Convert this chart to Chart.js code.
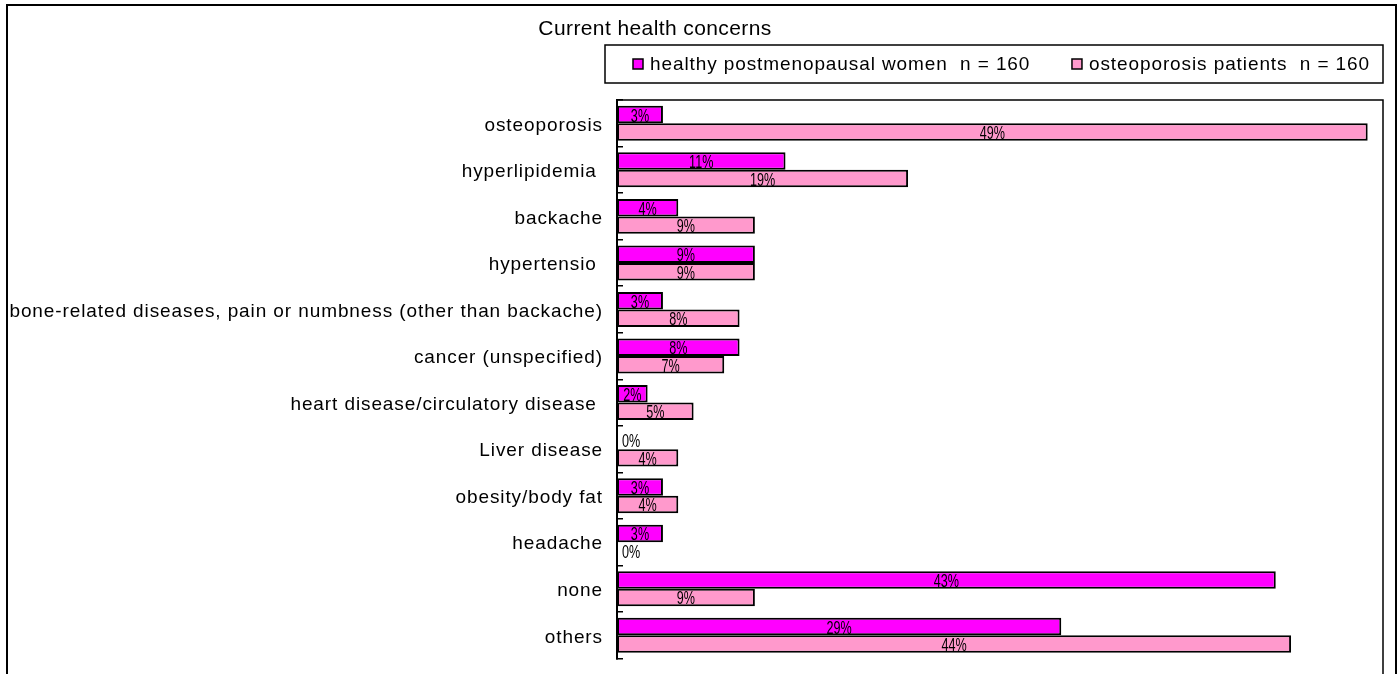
<!DOCTYPE html>
<html>
<head>
<meta charset="utf-8">
<title>Current health concerns</title>
<script src="https://cdn.jsdelivr.net/npm/chart.js@4/dist/chart.umd.min.js"></script>
<style>
	html, body { margin: 0; padding: 0; background: #fff; overflow: hidden; }
	#wrap { position: relative; width: 1399px; height: 674px; overflow: hidden; }
	#frame { position: absolute; left: 6px; top: 4px; width: 1391px; height: 760px; box-sizing: border-box; border: 2px solid #000; border-bottom: none; }
	#holder { position: absolute; left: 0; top: 0; width: 1399px; height: 690px; }
</style>
</head>
<body>
<div id="wrap">
	<div id="frame"></div>
	<div id="holder"><canvas id="canvas01" width="1399" height="690"></canvas></div>
</div>
<script>
var categories = [
	'osteoporosis',
	'hyperlipidemia ',
	'backache',
	'hypertensio ',
	'bone-related diseases, pain or numbness (other than backache)',
	'cancer (unspecified)',
	'heart disease/circulatory disease ',
	'Liver disease',
	'obesity/body fat',
	'headache',
	'none',
	'others'
];
var healthyValues = [3, 11, 4, 9, 3, 8, 2, 0, 3, 3, 43, 29];
var patientValues = [49, 19, 9, 9, 8, 7, 5, 4, 4, 0, 9, 44];
var seriesNames = ['healthy postmenopausal women  n = 160', 'osteoporosis patients  n = 160'];
var seriesColors = ['#ff00ff', '#ff99cc'];
var titleText = 'Current health concerns';
var xMax = 50;

var FONT = '"Liberation Sans", Arial, sans-serif';
var TEXT_SPACING = '0.9px';

//wider tracking for the axis labels
var tracking = {
	id: 'tracking',
	beforeDraw: function(chart) {
		chart.ctx.letterSpacing = TEXT_SPACING;
	}
};

//plot frame: top and right edge of the chart area
var plotFrame = {
	id: 'plotFrame',
	afterDatasetsDraw: function(chart) {
		var a = chart.chartArea, ctx = chart.ctx;
		ctx.save();
		ctx.strokeStyle = '#000';
		ctx.lineWidth = 1.5;
		ctx.beginPath();
		ctx.moveTo(a.left, a.top);
		ctx.lineTo(a.right, a.top);
		ctx.lineTo(a.right, chart.height);
		ctx.stroke();
		ctx.restore();
	}
};

//value labels centred in each bar, squeezed horizontally
var barLabels = {
	id: 'barLabels',
	afterDatasetsDraw: function(chart) {
		var ctx = chart.ctx;
		var squeeze = 0.7;
		ctx.save();
		ctx.letterSpacing = '0px';
		ctx.font = '18px ' + FONT;
		ctx.fillStyle = '#000';
		ctx.textAlign = 'center';
		ctx.textBaseline = 'middle';
		chart.data.datasets.forEach(function(ds, i) {
			var meta = chart.getDatasetMeta(i);
			meta.data.forEach(function(bar, j) {
				var text = ds.data[j] + '%';
				var w = ctx.measureText(text).width * squeeze;
				var cx = Math.max((bar.x + bar.base) / 2, bar.base + w / 2 + 5);
				ctx.save();
				ctx.translate(cx, bar.y + 2);
				ctx.scale(squeeze, 1);
				ctx.fillText(text, 0, 0);
				ctx.restore();
			});
		});
		ctx.restore();
	}
};

//title and boxed legend above the plot
var header = {
	id: 'header',
	afterDraw: function(chart) {
		var ctx = chart.ctx, a = chart.chartArea;
		ctx.save();
		ctx.fillStyle = '#000';
		ctx.font = '21px ' + FONT;
		ctx.letterSpacing = '0.4px';
		ctx.textAlign = 'center';
		ctx.textBaseline = 'middle';
		ctx.fillText(titleText, 655, 29);

		var boxL = a.left - 12, boxR = a.right, boxT = 45, boxB = 83;
		var midY = (boxT + boxB) / 2;
		ctx.lineWidth = 1.5;
		ctx.strokeStyle = '#000';
		ctx.strokeRect(boxL, boxT, boxR - boxL, boxB - boxT);

		ctx.font = '19px ' + FONT;
		ctx.letterSpacing = TEXT_SPACING;
		ctx.textAlign = 'left';
		var ds = chart.data.datasets;
		var w2 = ctx.measureText(ds[1].label).width;
		var starts = [boxL + 28, boxR - 13 - w2 - 17];
		for (var i = 0; i < ds.length; i++) {
			var x = starts[i];
			ctx.fillStyle = ds[i].backgroundColor;
			ctx.fillRect(x, midY - 5, 10, 10);
			ctx.lineWidth = 1.5;
			ctx.strokeRect(x, midY - 5, 10, 10);
			ctx.fillStyle = '#000';
			ctx.fillText(ds[i].label, x + 17, midY + 1);
		}
		ctx.restore();
	}
};

function mainFunc() {
	var ctx = document.getElementById('canvas01');
	var datasets = [healthyValues, patientValues].map(function(vals, i) {
		return {
			label: seriesNames[i],
			data: vals,
			backgroundColor: seriesColors[i],
			borderColor: '#000',
			borderWidth: 2,
			borderSkipped: false,
			categoryPercentage: 0.75,
			barPercentage: 1.0
		};
	});

	new Chart(ctx, {
		type: 'bar',
		data: { labels: categories, datasets: datasets },
		options: {
			indexAxis: 'y',
			responsive: false,
			animation: false,
			events: [],
			layout: { padding: { top: 100, right: 16, bottom: 13, left: 0 } },
			plugins: {
				legend: { display: false },
				title: { display: false },
				tooltip: { enabled: false }
			},
			scales: {
				x: { display: false, min: 0, max: xMax },
				y: {
					afterFit: function(scale) { scale.width = 617; },
					border: { display: true, color: '#000', width: 2 },
					grid: {
						display: true,
						offset: true,
						drawOnChartArea: false,
						color: '#000',
						lineWidth: 1.5,
						tickLength: -6
					},
					ticks: {
						color: '#000',
						padding: 20,
						labelOffset: 2,
						font: { family: FONT, size: 19 }
					}
				}
			}
		},
		plugins: [tracking, plotFrame, barLabels, header]
	});
}

window.onload = mainFunc;
</script>
</body>
</html>
